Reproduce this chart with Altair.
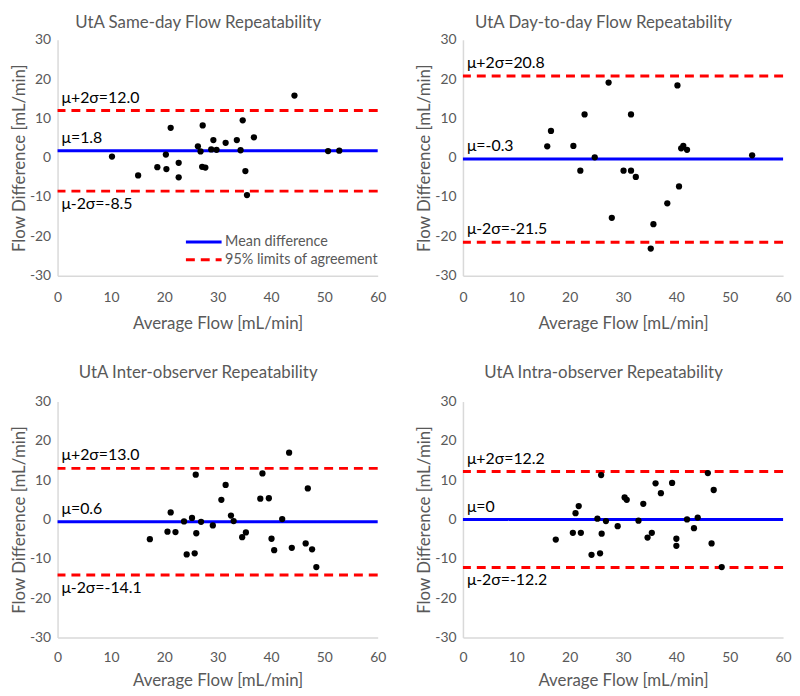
import altair as alt
import pandas as pd

FONT = "Lato"
GREY = "#595959"
AXIS_GREY = "#D9D9D9"
BLUE = "#0000FF"
RED = "#FF0000"

titles = [
    "UtA Same-day Flow Repeatability",
    "UtA Day-to-day Flow Repeatability",
    "UtA Inter-observer Repeatability",
    "UtA Intra-observer Repeatability",
]

p1_x = [10.2, 15.1, 18.7, 20.3, 20.4, 21.2, 22.7, 22.7, 26.3, 26.8, 27.2, 27.1, 27.7,
        28.8, 29.2, 29.8, 31.5, 33.6, 34.3, 34.7, 35.2, 35.5, 36.8, 44.4, 50.7, 52.8]
p1_y = [0.3, -4.5, -2.4, 0.8, -2.9, 7.6, -1.3, -5.0, 2.9, 1.6, 8.2, -2.3, -2.5,
        2.1, 4.5, 2.0, 3.8, 4.5, 1.9, 9.5, -3.4, -9.5, 5.2, 15.8, 1.7, 1.8]

p2_x = [15.8, 16.5, 20.7, 22.0, 22.8, 24.7, 27.3, 27.9, 30.1, 31.5, 31.5, 32.4, 35.2,
        35.7, 38.3, 40.2, 40.5, 40.9, 41.3, 42.0, 54.2]
p2_y = [2.9, 6.8, 3.0, -3.3, 11.0, 0.1, 19.1, -15.3, -3.3, 11.0, -3.3, -4.9, -23.1,
        -16.9, -11.6, 18.4, -7.3, 2.4, 3.0, 2.0, 0.6]

p3_x = [17.3, 20.6, 21.2, 22.1, 23.7, 24.2, 25.2, 25.7, 25.9, 26.0, 26.9, 29.1, 30.7,
        31.5, 32.5, 33.0, 34.6, 35.3, 38.0, 38.4, 39.6, 40.1, 40.6, 42.1, 43.4, 43.9,
        46.5, 46.9, 47.7, 48.5]
p3_y = [-5.0, -3.1, 1.8, -3.2, -0.5, -8.9, 0.4, -8.6, 11.4, -3.5, -0.6, -1.5, 5.0,
        8.8, 1.0, -0.4, -4.5, -3.3, 5.3, 11.7, 5.4, -4.9, -7.8, 0.1, 17.0, -7.2,
        -6.1, 7.9, -7.6, -12.1]

p4_x = [17.4, 20.6, 21.1, 21.7, 22.1, 24.1, 25.2, 25.7, 25.9, 26.0, 26.8, 29.0, 30.3,
        30.7, 32.9, 33.8, 34.6, 35.4, 36.1, 37.1, 39.2, 40.0, 40.0, 42.0, 43.3, 44.0,
        45.9, 46.6, 47.0, 48.5]
p4_y = [-5.1, -3.4, 1.6, 3.4, -3.4, -9.0, 0.2, -8.6, 11.3, -3.6, -0.4, -1.7, 5.6,
        5.0, -0.3, 4.0, -4.6, -3.4, 9.2, 6.7, 9.3, -4.9, -6.7, 0.0, -2.2, 0.5,
        11.8, -6.1, 7.5, -12.1]

means = [1.75, -0.35, -0.55, 0.0]
uppers = [12.0, 20.8, 13.0, 12.2]
lowers = [-8.5, -21.5, -14.1, -12.2]
mean_labels = ["μ=1.8", "μ=-0.3", "μ=0.6", "μ=0"]
upper_labels = ["μ+2σ=12.0", "μ+2σ=20.8", "μ+2σ=13.0", "μ+2σ=12.2"]
lower_labels = ["μ-2σ=-8.5", "μ-2σ=-21.5", "μ-2σ=-14.1", "μ-2σ=-12.2"]

series_names = ["Mean difference", "95% limits of agreement"]
x_ticks = [0, 10, 20, 30, 40, 50, 60]
y_ticks = [-30, -20, -10, 0, 10, 20, 30]

W, H = 323, 238
HYPHEN = "replace(datum.label, '\u2212', '-')"


def panel(i, xs, ys, show_legend=False, lower_above=False, title_offset=13,
          x_label_pad=12, x_title_pad=8):
    pts = pd.DataFrame({"avg": xs, "diff": ys})
    lines = pd.DataFrame({
        "kind": [series_names[0], series_names[1], series_names[1]],
        "val": [means[i], uppers[i], lowers[i]],
    })
    labels = pd.DataFrame({
        "pos": ["mean", "upper", "lower"],
        "val": [means[i], uppers[i], lowers[i]],
        "label": [mean_labels[i], upper_labels[i], lower_labels[i]],
    })

    xscale = alt.Scale(domain=[0, 60], nice=False, zero=False)
    yscale = alt.Scale(domain=[-30, 30], nice=False, zero=False)
    xaxis = alt.Axis(values=x_ticks, title="Average Flow [mL/min]", grid=False, ticks=False,
                     labelOverlap=False, labelFlush=False,
                     labelPadding=x_label_pad, titlePadding=x_title_pad)
    yaxis = alt.Axis(values=y_ticks, title="Flow Difference [mL/min]", grid=False, ticks=False,
                     labelOverlap=False, labelFlush=False, labelExpr=HYPHEN,
                     labelPadding=7, titlePadding=1)

    if show_legend:
        legend = alt.Legend(orient="none", legendX=128, legendY=196, title=None,
                            symbolType="stroke", symbolSize=1296, symbolStrokeWidth=3,
                            labelFont=FONT, labelFontSize=14.5, labelColor=GREY,
                            labelOffset=2, rowPadding=2, clipHeight=16, padding=0)
    else:
        legend = None

    rules = alt.Chart(lines).mark_rule(strokeWidth=3).encode(
        y=alt.Y("val:Q", scale=yscale, axis=yaxis),
        color=alt.Color("kind:N", scale=alt.Scale(domain=series_names, range=[BLUE, RED]),
                        legend=legend, sort=series_names),
        strokeDash=alt.StrokeDash("kind:N",
                                  scale=alt.Scale(domain=series_names, range=[[1, 0], [9, 6]]),
                                  legend=legend, sort=series_names),
    )

    def text_layer(pos, dy):
        return alt.Chart(labels).transform_filter(alt.datum.pos == pos).mark_text(
            align="left", baseline="middle", dx=4, dy=dy, font=FONT, fontSize=16, color="black"
        ).encode(
            x=alt.XDatum(0, scale=xscale, axis=xaxis),
            y=alt.Y("val:Q", scale=yscale, axis=yaxis),
            text="label:N",
        )

    t_mean = text_layer("mean", -13)
    t_up = text_layer("upper", -13)
    t_low = text_layer("lower", -13 if lower_above else 13)

    points = alt.Chart(pts).mark_circle(size=40, color="black", opacity=1).encode(
        x=alt.X("avg:Q", scale=xscale, axis=xaxis),
        y=alt.Y("diff:Q", scale=yscale, axis=yaxis),
    )

    return alt.layer(rules, t_mean, t_up, t_low, points).properties(
        width=W, height=H,
        title=alt.TitleParams(titles[i], font=FONT, fontSize=17, fontWeight="normal",
                              color=GREY, anchor="middle", frame="bounds", offset=title_offset),
    )


c1 = panel(0, p1_x, p1_y, show_legend=True, title_offset=1, x_label_pad=15, x_title_pad=11)
c2 = panel(1, p2_x, p2_y, lower_above=True, title_offset=1, x_label_pad=15, x_title_pad=11)
c3 = panel(2, p3_x, p3_y, title_offset=13, x_label_pad=13, x_title_pad=9)
c4 = panel(3, p4_x, p4_y, title_offset=13, x_label_pad=13, x_title_pad=9)

chart = alt.concat(
    c1, c2, c3, c4, columns=2, bounds="flush", spacing={"row": 127, "column": 86}
).resolve_scale(
    color="independent", strokeDash="independent"
).resolve_legend(color="independent", strokeDash="independent").properties(
    padding={"left": 2, "top": 3, "right": 0, "bottom": 0}
).configure_view(stroke=None).configure_axis(
    domainColor=AXIS_GREY, domainWidth=1.5, labelFont=FONT, labelFontSize=14,
    labelColor=GREY, titleFont=FONT, titleFontSize=17, titleFontWeight="normal",
    titleColor=GREY, labelOverlap=False,
)

chart.save("out.html", embed_options={"renderer": "svg", "actions": False})
